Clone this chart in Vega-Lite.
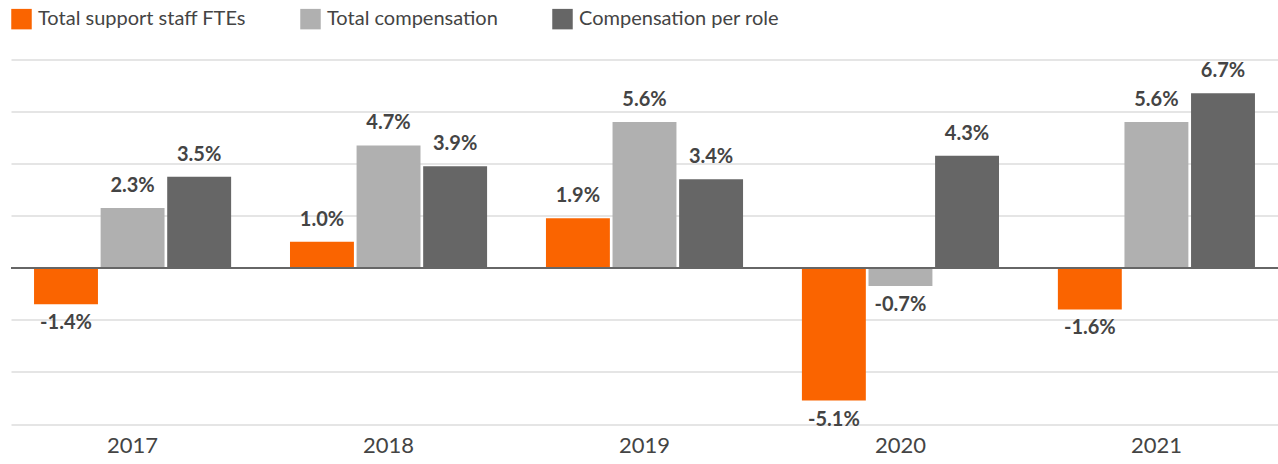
{
  "$schema": "https://vega.github.io/schema/vega-lite/v6.json",
  "width": 1267,
  "height": 364.5,
  "autosize": {"type": "none"},
  "padding": {"left": 11, "top": 59.5, "right": 0, "bottom": 40},
  "background": "white",
  "config": {
    "view": {"stroke": null},
    "font": "Lato",
    "legend": {"padding": 0}
  },
  "data": {
    "values": [
      {"year": "2017", "series": "Total support staff FTEs", "value": -1.4, "label": "-1.4%"},
      {"year": "2017", "series": "Total compensation", "value": 2.3, "label": "2.3%"},
      {"year": "2017", "series": "Compensation per role", "value": 3.5, "label": "3.5%"},
      {"year": "2018", "series": "Total support staff FTEs", "value": 1.0, "label": "1.0%"},
      {"year": "2018", "series": "Total compensation", "value": 4.7, "label": "4.7%"},
      {"year": "2018", "series": "Compensation per role", "value": 3.9, "label": "3.9%"},
      {"year": "2019", "series": "Total support staff FTEs", "value": 1.9, "label": "1.9%"},
      {"year": "2019", "series": "Total compensation", "value": 5.6, "label": "5.6%"},
      {"year": "2019", "series": "Compensation per role", "value": 3.4, "label": "3.4%"},
      {"year": "2020", "series": "Total support staff FTEs", "value": -5.1, "label": "-5.1%"},
      {"year": "2020", "series": "Total compensation", "value": -0.7, "label": "-0.7%"},
      {"year": "2020", "series": "Compensation per role", "value": 4.3, "label": "4.3%"},
      {"year": "2021", "series": "Total support staff FTEs", "value": -1.6, "label": "-1.6%"},
      {"year": "2021", "series": "Total compensation", "value": 5.6, "label": "5.6%"},
      {"year": "2021", "series": "Compensation per role", "value": 6.7, "label": "6.7%"}
    ]
  },
  "encoding": {
    "x": {
      "field": "year", "type": "nominal",
      "scale": {"paddingInner": 0.23, "paddingOuter": 0.09},
      "axis": {"title": null, "labelAngle": 0, "labelFontSize": 22, "labelColor": "#444444", "labelPadding": 11, "ticks": false, "domain": false, "grid": false}
    },
    "xOffset": {
      "field": "series", "type": "nominal",
      "sort": ["Total support staff FTEs", "Total compensation", "Compensation per role"],
      "scale": {"paddingInner": 0.04}
    },
    "y": {
      "field": "value", "type": "quantitative",
      "scale": {"domain": [-6, 8], "nice": false, "zero": true},
      "axis": {"title": null, "labels": false, "ticks": false, "domain": false, "grid": true, "gridColor": "#dddddd", "gridWidth": 1.5, "values": [-6, -4, -2, 0, 2, 4, 6, 8]}
    }
  },
  "layer": [
    {
      "mark": {"type": "bar"},
      "encoding": {
        "color": {
          "field": "series", "type": "nominal",
          "sort": ["Total support staff FTEs", "Total compensation", "Compensation per role"],
          "scale": {"domain": ["Total support staff FTEs", "Total compensation", "Compensation per role"], "range": ["#fa6400", "#b0b0b0", "#666666"]},
          "legend": {
            "title": null, "orient": "none", "legendX": 0, "legendY": -51,
            "direction": "horizontal", "symbolType": "square", "symbolSize": 420,
            "symbolStrokeWidth": 0, "labelFontSize": 20, "labelColor": "#444444",
            "labelOffset": 6, "columnPadding": 54, "labelLimit": 500
          }
        }
      }
    },
    {
      "transform": [{"filter": "datum.value >= 0"}],
      "mark": {"type": "text", "baseline": "bottom", "dy": -12, "fontSize": 20, "fontWeight": "bold", "color": "#444444"},
      "encoding": {"text": {"field": "label"}}
    },
    {
      "transform": [{"filter": "datum.value < 0"}],
      "mark": {"type": "text", "baseline": "top", "dy": 9, "fontSize": 20, "fontWeight": "bold", "color": "#444444"},
      "encoding": {"text": {"field": "label"}}
    },
    {
      "mark": {"type": "rule", "color": "#666666", "strokeWidth": 1.5},
      "encoding": {"y": {"datum": 0}, "x": null, "xOffset": null}
    }
  ]
}
